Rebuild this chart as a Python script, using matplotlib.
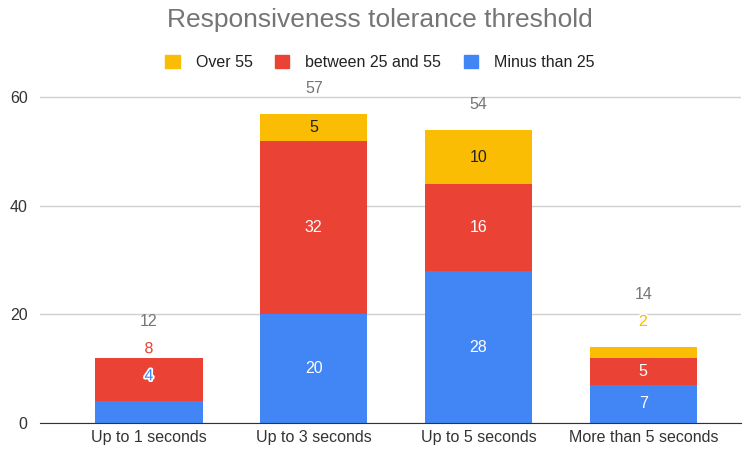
import numpy as np
import matplotlib.pyplot as plt
import matplotlib.patheffects as pe
from matplotlib.patches import Patch

plt.rcParams['font.family'] = ['Liberation Sans', 'DejaVu Sans']

categories = ["Up to 1 seconds", "Up to 3 seconds", "Up to 5 seconds", "More than 5 seconds"]
minus_25 = [4, 20, 28, 7]
between_25_55 = [8, 32, 16, 5]
over_55 = [0, 5, 10, 2]

series = [
    ("Minus than 25", minus_25, "#4285F4", "white"),
    ("between 25 and 55", between_25_55, "#EA4335", "white"),
    ("Over 55", over_55, "#FBBC04", "#222222"),
]

MIN_FIT = 5     # segments smaller than this get their label pushed up
PAD = 4.7       # space between bar top and first label above it
GAP = 5.0       # minimum spacing between stacked labels

fig = plt.figure(figsize=(7.45, 4.5), dpi=100)
ax = fig.add_axes([0.054, 0.06, 0.94, 0.76])

x = np.arange(len(categories))
width = 0.65
bottoms = np.zeros(len(categories))
for name, vals, color, _ in series:
    ax.bar(x, vals, width, bottom=bottoms, color=color, label=name, zorder=2)
    bottoms += np.array(vals)
totals = bottoms

# value labels, stacked upwards when a segment is too thin
for i in range(len(categories)):
    base = 0
    y_prev = -np.inf
    for name, vals, color, inner in series:
        v = vals[i]
        if v == 0:
            continue
        if v >= MIN_FIT:
            y = max(base + v / 2, y_prev + GAP)
        else:
            y = max(base + v + PAD, y_prev + GAP)
        if v >= MIN_FIT and y <= base + v:
            fc = inner
            effects = []
        else:
            fc = color
            effects = [pe.withStroke(linewidth=2.5, foreground="white")]
        ax.text(x[i], y, str(v), ha="center", va="center", fontsize=11.5,
                color=fc, path_effects=effects, zorder=4)
        y_prev = y
        base += v
    y = max(totals[i] + PAD, y_prev + GAP)
    ax.text(x[i], y, str(int(totals[i])), ha="center", va="center",
            fontsize=11.5, color="#757575", zorder=4)

ax.set_xlim(-0.66, 3.59)
ax.set_ylim(0, 63)
ax.set_yticks([0, 20, 40, 60])
ax.set_xticks(x)
ax.set_xticklabels(categories)
ax.tick_params(axis="both", length=0, labelsize=11.5, colors="#333333")
ax.tick_params(axis="x", pad=5)
ax.tick_params(axis="y", pad=9)
ax.grid(axis="y", color="#d0d0d0", linewidth=1, zorder=0)
for s in ["top", "right", "left"]:
    ax.spines[s].set_visible(False)
ax.spines["bottom"].set_color("#333333")
ax.spines["bottom"].set_zorder(3)

fig.text(0.51, 0.955, "Responsiveness tolerance threshold", ha="center", va="center",
         fontsize=19, color="#757575")

handles = [Patch(facecolor=c, edgecolor=c) for _, _, c, _ in series[::-1]]
labels = [n for n, _, _, _ in series[::-1]]
fig.legend(handles, labels, loc="center", bbox_to_anchor=(0.51, 0.862), ncol=3,
           frameon=False, fontsize=11.5, handlelength=0.9, handleheight=0.9,
           handletextpad=1.0, columnspacing=1.4, labelcolor="#222222")

fig.savefig("out.png", dpi=100)
